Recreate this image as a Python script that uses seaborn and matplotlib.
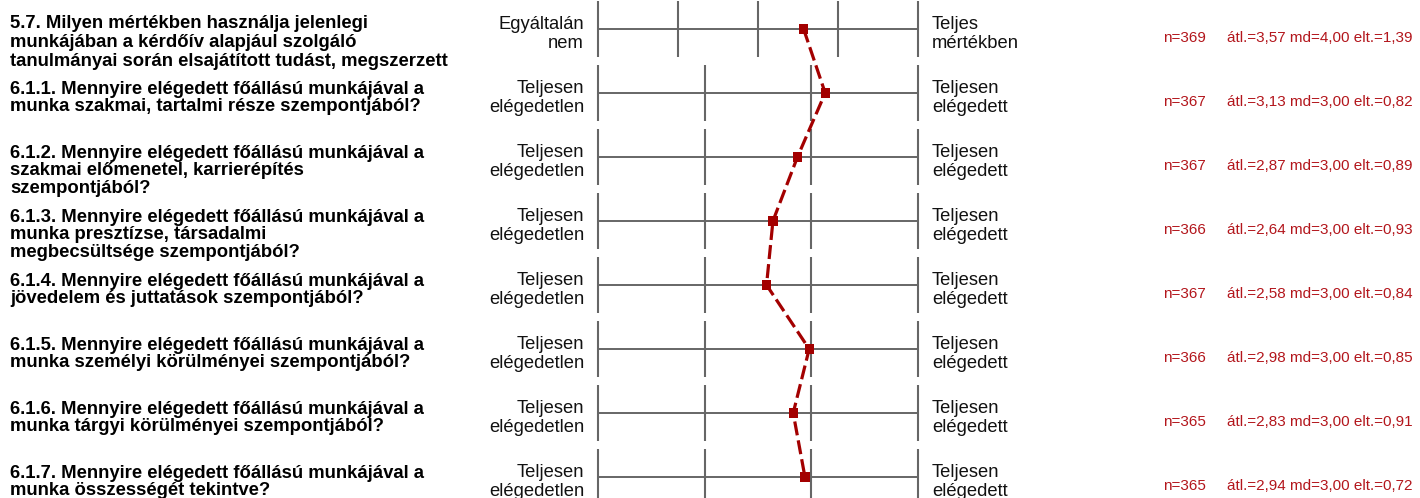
import matplotlib
matplotlib.use("Agg")
import matplotlib.pyplot as plt
import seaborn as sns
import numpy as np
import pandas as pd

# ---- data -------------------------------------------------------------
questions = [
    ["5.7. Milyen mértékben használja jelenlegi",
     "munkájában a kérdőív alapjául szolgáló",
     "tanulmányai során elsajátított tudást, megszerzett"],
    ["6.1.1. Mennyire elégedett főállású munkájával a",
     "munka szakmai, tartalmi része szempontjából?"],
    ["6.1.2. Mennyire elégedett főállású munkájával a",
     "szakmai előmenetel, karrierépítés",
     "szempontjából?"],
    ["6.1.3. Mennyire elégedett főállású munkájával a",
     "munka presztízse, társadalmi",
     "megbecsültsége szempontjából?"],
    ["6.1.4. Mennyire elégedett főállású munkájával a",
     "jövedelem és juttatások szempontjából?"],
    ["6.1.5. Mennyire elégedett főállású munkájával a",
     "munka személyi körülményei szempontjából?"],
    ["6.1.6. Mennyire elégedett főállású munkájával a",
     "munka tárgyi körülményei szempontjából?"],
    ["6.1.7. Mennyire elégedett főállású munkájával a",
     "munka összességét tekintve?"],
]
left_labels = [["Egyáltalán", "nem"]] + [["Teljesen", "elégedetlen"]] * 7
right_labels = [["Teljes", "mértékben"]] + [["Teljesen", "elégedett"]] * 7
scale_points = [5, 4, 4, 4, 4, 4, 4, 4]
n_values = [369, 367, 367, 366, 367, 366, 365, 365]
means = [3.57, 3.13, 2.87, 2.64, 2.58, 2.98, 2.83, 2.94]
medians = [4.00, 3.00, 3.00, 3.00, 3.00, 3.00, 3.00, 3.00]
std_devs = [1.39, 0.82, 0.89, 0.93, 0.84, 0.85, 0.91, 0.72]

# ---- layout (pixels) --------------------------------------------------
W, H = 1420, 498
ROW0, ROW_STEP = 29, 64
PANEL_L, PANEL_R = 598, 918
TICK_HALF = 28

RED_LINE = "#a30000"
RED_TEXT = "#b3161c"
GRID = "#5a5a5a"

sns.set_theme(style="white")
plt.rcParams["font.family"] = ["Liberation Sans", "DejaVu Sans"]

fig = plt.figure(figsize=(W / 100, H / 100), dpi=100)
ax = fig.add_axes([PANEL_L / W, 0, (PANEL_R - PANEL_L) / W, 1])
ax.set_xlim(0, 1)
ax.set_ylim((H - ROW0) / ROW_STEP, -ROW0 / ROW_STEP)
ax.axis("off")

rows = np.arange(len(questions))
half = TICK_HALF / ROW_STEP

# scale rulers: one horizontal line per item plus a tick for each scale point
for i, k in enumerate(scale_points):
    ax.hlines(i, 0, 1, color=GRID, lw=1.3, clip_on=False, zorder=1)
    ticks = np.linspace(0, 1, k)
    ax.vlines(ticks, i - half, i + half, color="#666666", lw=1.5,
              clip_on=False, zorder=1)

# mean profile (position on each item's own scale)
prof = pd.DataFrame({
    "pos": [(m - 1) / (k - 1) for m, k in zip(means, scale_points)],
    "row": rows,
})
sns.lineplot(data=prof, x="pos", y="row", sort=False, estimator=None,
             color=RED_LINE, lw=2.3, linestyle=(0, (4.4, 1.6)),
             ax=ax, clip_on=False, zorder=3)
sns.scatterplot(data=prof, x="pos", y="row", marker="s", s=44,
                color=RED_LINE, edgecolor="none", linewidth=0,
                ax=ax, clip_on=False, zorder=4)
ax.set_xlabel("")
ax.set_ylabel("")


def fx(x):
    return x / W


def fy(y):
    return 1 - y / H


QFS = 13.3
LFS = 13.2
SFS = 11.0
CAP = 6.6  # half cap height in px, used to place baselines

for i in rows:
    yc = ROW0 + ROW_STEP * i
    # question text
    first = -8 if i == 0 else -6
    step = 19 if i == 0 else 17.5
    for j, line in enumerate(questions[i]):
        y = yc + first + step * j + CAP
        fig.text(fx(10), fy(y), line, ha="left", va="baseline",
                 fontsize=QFS, fontweight="bold", color="black")
    # pole labels
    for j, line in enumerate(left_labels[i]):
        y = yc - 7 + 19 * j + CAP
        fig.text(fx(584), fy(y), line, ha="right", va="baseline",
                 fontsize=LFS, color="#111111")
    for j, line in enumerate(right_labels[i]):
        y = yc - 7 + 19 * j + CAP
        fig.text(fx(932), fy(y), line, ha="left", va="baseline",
                 fontsize=LFS, color="#111111")
    # statistics
    ys = yc + 7 + 5.5
    fig.text(fx(1163), fy(ys), f"n={n_values[i]}", ha="left",
             va="baseline", fontsize=SFS, color=RED_TEXT)
    stats = (f"átl.={means[i]:.2f} md={medians[i]:.2f} "
             f"elt.={std_devs[i]:.2f}").replace(".", ",")
    stats = stats.replace("átl,", "átl.").replace("elt,", "elt.")
    fig.text(fx(1227), fy(ys), stats, ha="left", va="baseline",
             fontsize=SFS, color=RED_TEXT)

fig.savefig("out.png", dpi=100, facecolor="white")
